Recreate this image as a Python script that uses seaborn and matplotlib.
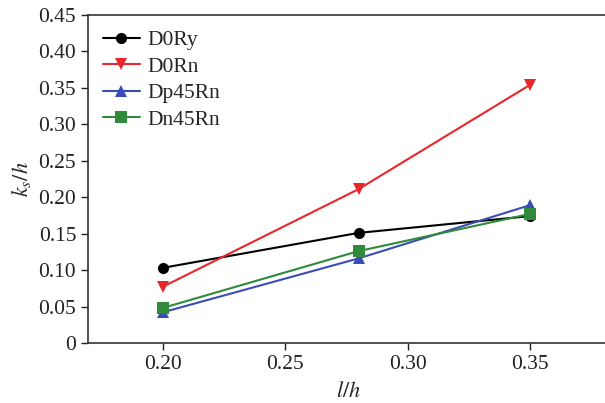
#!/usr/bin/env python3
import pandas as pd
import matplotlib.pyplot as plt
import seaborn as sns

# ─── Datos ─────────────────────────────────────────────────────────────────────
L_H = [0.20, 0.28, 0.35]
D0RY = [0.103, 0.151, 0.174]
D0RN = [0.077, 0.211, 0.354]
DP45RN = [0.042, 0.116, 0.189]
DN45RN = [0.048, 0.126, 0.177]
SERIES = ['D0Ry', 'D0Rn', 'Dp45Rn', 'Dn45Rn']

PALETTE = {'D0Ry': 'black', 'D0Rn': '#e8262b', 'Dp45Rn': '#3b4cb8', 'Dn45Rn': '#2f8a3a'}
MARKERS = {'D0Ry': 'o', 'D0Rn': 'v', 'Dp45Rn': '^', 'Dn45Rn': 's'}

df = pd.concat([
    pd.DataFrame({'l_h': L_H, 'ks_h': vals, 'serie': name})
    for name, vals in zip(SERIES, [D0RY, D0RN, DP45RN, DN45RN])
])

# ─── Figura ────────────────────────────────────────────────────────────────────
sns.set_style('white')
plt.rcParams['font.family'] = ['Liberation Serif', 'DejaVu Serif']
plt.rcParams['mathtext.fontset'] = 'stix'

fig = plt.figure(figsize=(6.05, 4.03), dpi=100)
ax = fig.add_axes([0.1455, 0.149, 0.86, 0.814])

sns.lineplot(data=df, x='l_h', y='ks_h', hue='serie', style='serie',
             hue_order=SERIES, style_order=SERIES, palette=PALETTE,
             markers=MARKERS, dashes=False, markersize=8, linewidth=1.5,
             markeredgewidth=0, ax=ax)

ax.set_xlim(0.1695, 0.382)
ax.set_ylim(0, 0.45)
ax.set_xticks([0.20, 0.25, 0.30, 0.35])
ax.set_xticklabels(['0.20', '0.25', '0.30', '0.35'])
ax.set_yticks([0, 0.05, 0.10, 0.15, 0.20, 0.25, 0.30, 0.35, 0.40, 0.45])
ax.set_yticklabels(['0', '0.05', '0.10', '0.15', '0.20', '0.25', '0.30',
                    '0.35', '0.40', '0.45'])
ax.tick_params(axis='both', direction='out', length=5, width=1, labelsize=15.5,
               colors='#222222', bottom=True, left=True)
ax.set_xlabel('$l/h$', fontsize=16, labelpad=6)
ax.set_ylabel('$k_s/h$', fontsize=16, labelpad=4)
for side in ['left', 'bottom', 'top']:
    ax.spines[side].set_color('#333333')
    ax.spines[side].set_linewidth(1.2)
ax.spines['right'].set_visible(False)

leg = ax.legend(loc='upper left', frameon=False, fontsize=15.5,
                handlelength=1.7, handletextpad=0.35, borderaxespad=0.3,
                labelspacing=0.3, bbox_to_anchor=(0.0, 1.0))

fig.savefig('out.png', dpi=100)
